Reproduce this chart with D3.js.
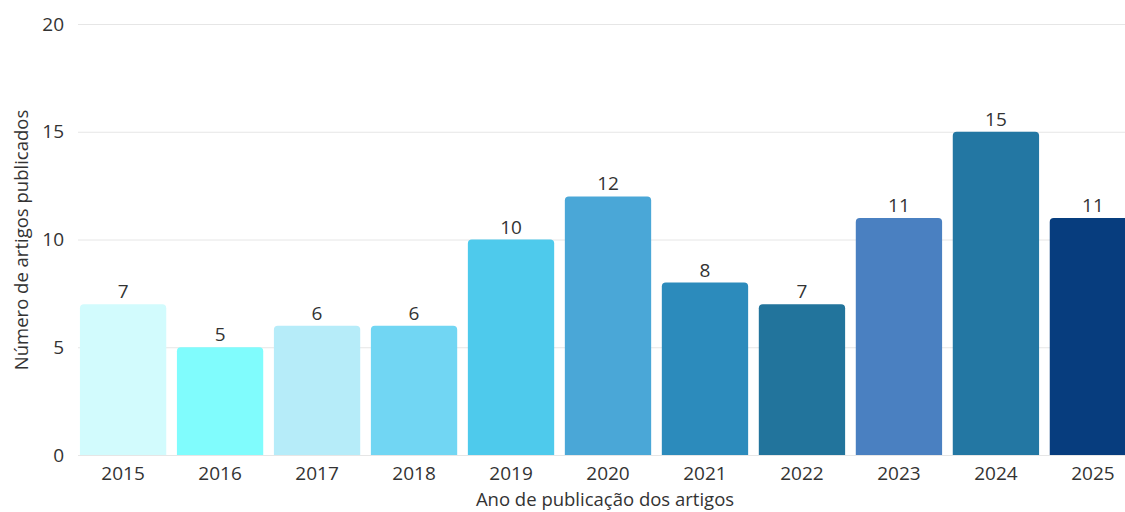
<!DOCTYPE html>
<html>
<head>
<meta charset="utf-8">
<script src="https://cdn.jsdelivr.net/npm/d3@7"></script>
<style>
  body { margin: 0; background: #fff; }
  svg { display: block; font-family: "Open Sans", "Noto Sans", sans-serif; }
</style>
</head>
<body>
<div id="canvas"></div>
<script>
const years = ["2015", "2016", "2017", "2018", "2019", "2020", "2021", "2022", "2023", "2024", "2025"];
const counts = [7, 5, 6, 6, 10, 12, 8, 7, 11, 15, 11];
const barColors = ["#d2fbfd", "#80fcfd", "#b6ecf9", "#71d6f3", "#4ecaec", "#4aa7d7", "#2c8bbc", "#22749c", "#4a80c1", "#2377a3", "#073d7e"];
const yTicks = [0, 5, 10, 15, 20];

const W = 1125, H = 512;
const plotLeft = 78, plotTop = 24, plotBottom = 455;

const svg = d3.select("#canvas")
    .append("svg")
    .attr("width", W)
    .attr("height", H);

const x = d3.scaleBand()
    .domain(years)
    .range([plotLeft, 1138])
    .paddingInner(0.11)
    .paddingOuter(0.02);

const y = d3.scaleLinear()
    .domain([0, 20])
    .range([plotBottom, plotTop]);

// gridlines
svg.append("g")
    .selectAll("line")
    .data(yTicks)
    .enter()
    .append("line")
    .attr("x1", plotLeft)
    .attr("x2", W)
    .attr("y1", d => y(d) + 0.5)
    .attr("y2", d => y(d) + 0.5)
    .attr("stroke", "#e6e6e6")
    .attr("stroke-width", 1);

// y axis labels
const yAxis = svg.append("g")
    .attr("transform", `translate(${plotLeft - 14},0)`)
    .call(d3.axisLeft(y).tickValues(yTicks).tickSize(0).tickPadding(0));
yAxis.select(".domain").remove();
yAxis.selectAll("text")
    .attr("font-size", 19)
    .attr("font-family", "Open Sans, Noto Sans, sans-serif")
    .attr("fill", "#333");

// x axis labels
const xAxis = svg.append("g")
    .attr("transform", `translate(0,${plotBottom + 11})`)
    .call(d3.axisBottom(x).tickSize(0).tickPadding(0));
xAxis.select(".domain").remove();
xAxis.selectAll("text")
    .attr("font-size", 19)
    .attr("font-family", "Open Sans, Noto Sans, sans-serif")
    .attr("fill", "#333");

// bars with rounded tops
const r = 4;
function barPath(d, i) {
    const x0 = x(years[i]), w = x.bandwidth();
    const y0 = y(d), y1 = y(0);
    return `M${x0},${y1} V${y0 + r} Q${x0},${y0} ${x0 + r},${y0} H${x0 + w - r} Q${x0 + w},${y0} ${x0 + w},${y0 + r} V${y1} Z`;
}

svg.append("g")
    .selectAll("path")
    .data(counts)
    .enter()
    .append("path")
    .attr("d", (d, i) => barPath(d, i))
    .attr("fill", (d, i) => barColors[i]);

// value labels
svg.append("g")
    .selectAll("text")
    .data(counts)
    .enter()
    .append("text")
    .attr("x", (d, i) => x(years[i]) + x.bandwidth() / 2)
    .attr("y", d => y(d) - 6)
    .attr("text-anchor", "middle")
    .attr("font-size", 19)
    .attr("fill", "#333")
    .text(d => d);

// axis titles
svg.append("text")
    .attr("x", 605)
    .attr("y", 506)
    .attr("text-anchor", "middle")
    .attr("font-size", 18.5)
    .attr("fill", "#333")
    .text("Ano de publicação dos artigos");

svg.append("text")
    .attr("transform", `translate(28,240) rotate(-90)`)
    .attr("text-anchor", "middle")
    .attr("font-size", 18.5)
    .attr("fill", "#333")
    .text("Número de artigos publicados");
</script>
</body>
</html>
